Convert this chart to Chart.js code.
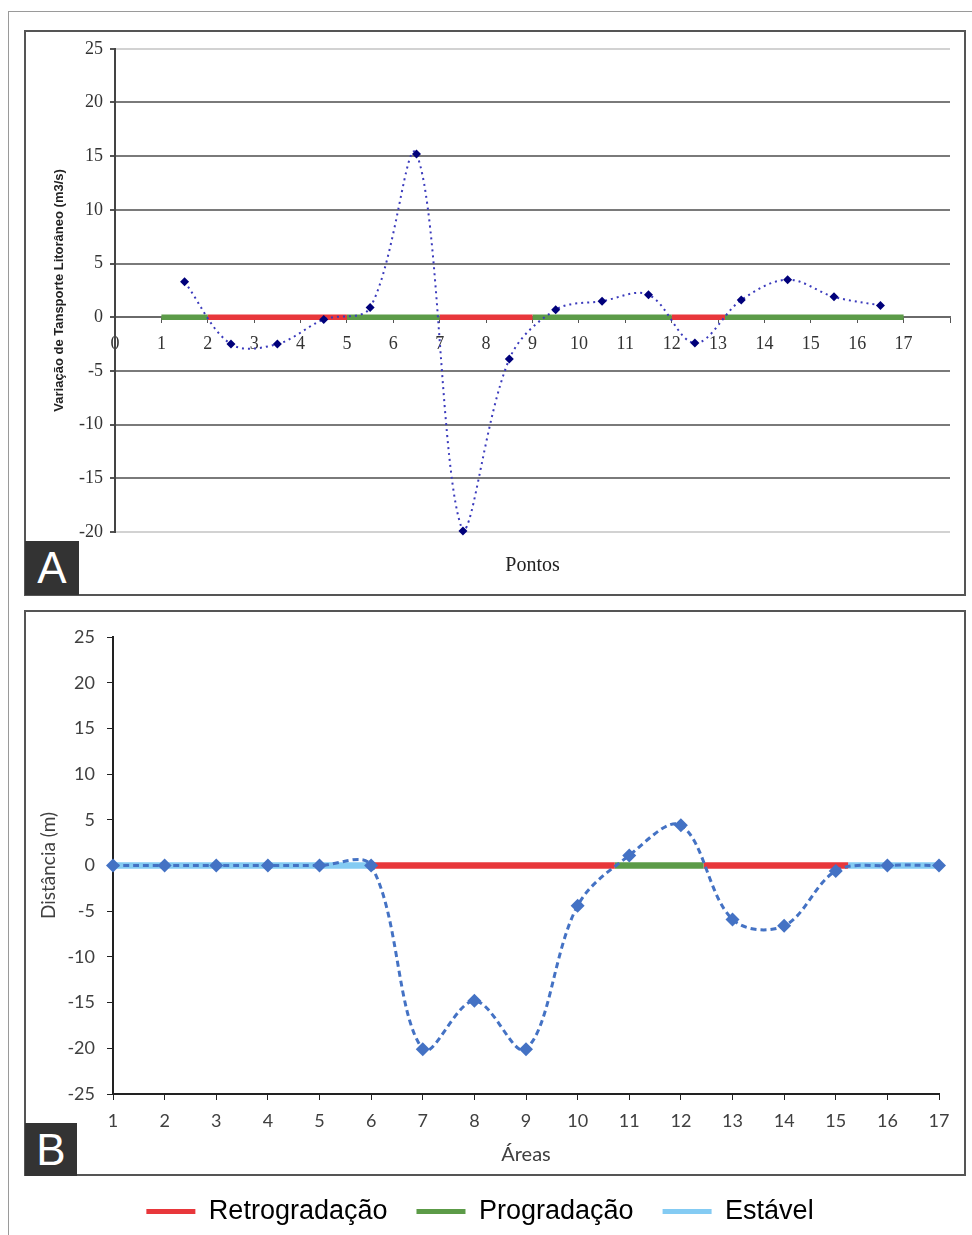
<!DOCTYPE html>
<html>
<head>
<meta charset="utf-8">
<script src="https://cdn.jsdelivr.net/npm/chart.js@4.4.1/dist/chart.umd.min.js"></script>
<style>
  html, body { margin: 0; padding: 0; background: #fff; }
  body { width: 972px; height: 1235px; position: relative; overflow: hidden; }
  .outer { position: absolute; left: 8px; top: 11px; right: -2px; bottom: -2px; border-left: 1px solid #9a9a9a; border-top: 1px solid #9a9a9a; }
  .frame { position: absolute; border: 2px solid #555; box-sizing: border-box; pointer-events: none; }
  .tag { position: absolute; background: #333; color: #fff; font: 44px "Liberation Sans", Arial, sans-serif; display: flex; align-items: center; justify-content: center; }
  canvas { position: absolute; }
</style>
</head>
<body>
<div class="outer"></div>
<canvas id="chartA" width="940" height="564" style="left:25px; top:31px;"></canvas>
<canvas id="chartB" width="960" height="624" style="left:0px; top:611px;"></canvas>
<div class="frame" style="left:24px; top:30px; width:942px; height:566px;"></div>
<div class="frame" style="left:24px; top:610px; width:942px; height:566px;"></div>
<div class="tag" style="left:25px; top:541px; width:54px; height:54px;">A</div>
<div class="tag" style="left:25px; top:1123px; width:52px; height:53px;">B</div>
<script>
// ---- panel A: transporte litorâneo por ponto
const pontosX = [1.5, 2.5, 3.5, 4.5, 5.5, 6.5, 7.5, 8.5, 9.5, 10.5, 11.5, 12.5, 13.5, 14.5, 15.5, 16.5];
const transporte = [3.3, -2.5, -2.5, -0.2, 0.9, 15.2, -19.9, -3.9, 0.7, 1.5, 2.1, -2.4, 1.6, 3.5, 1.9, 1.1];
const segAStart = [1, 2, 5, 7, 9, 12, 13.15];
const segAEnd = [2, 5, 7, 9, 12, 13.15, 17];
const segAClass = ['P', 'R', 'P', 'R', 'P', 'R', 'P'];

// ---- panel B: distância por área
const areas = [1, 2, 3, 4, 5, 6, 7, 8, 9, 10, 11, 12, 13, 14, 15, 16, 17];
const distancia = [0, 0, 0, 0, 0, 0, -20.1, -14.8, -20.1, -4.4, 1.1, 4.4, -5.9, -6.6, -0.6, 0, 0];
const segBStart = [1, 6, 10.72, 12.44, 15.24];
const segBEnd = [6, 10.72, 12.44, 15.24, 17];
const segBClass = ['E', 'R', 'P', 'R', 'E'];

// legenda
const classKeys = ['R', 'P', 'E'];
const classNames = {R: 'Retrogradação', P: 'Progradação', E: 'Estável'};
const classColors = {R: '#e8373b', P: '#5c9b48', E: '#84cbf3'};

const SERIF = '"Liberation Serif", "Times New Roman", serif';
const SANS = '"Liberation Sans", Arial, sans-serif';
const LATO = 'Lato, "Open Sans", sans-serif';

const segDatasets = (starts, ends, classes, width) => starts.map((s, i) => ({
    type: 'line',
    data: [{x: s, y: 0}, {x: ends[i], y: 0}],
    borderColor: classColors[classes[i]],
    borderWidth: width,
    pointRadius: 0,
    tension: 0,
    order: 2,
}));

new Chart(document.getElementById('chartA'), {
    type: 'line',
    data: {
        datasets: [
            {
                data: pontosX.map((x, i) => ({x, y: transporte[i]})),
                borderColor: '#3a3abc',
                borderWidth: 2,
                borderDash: [2, 4],
                tension: 0.35,
                pointStyle: 'rectRot',
                pointRadius: 4.5,
                pointBackgroundColor: '#00007a',
                pointBorderColor: '#00007a',
                pointBorderWidth: 0,
                order: 0,
                clip: false,
            },
            ...segDatasets(segAStart, segAEnd, segAClass, 5.5),
        ]
    },
    options: {
        responsive: false,
        animation: false,
        layout: {padding: {top: 16, right: 15, left: 0, bottom: 63}},
        scales: {
            x: {
                type: 'linear',
                position: {y: 0},
                min: 0,
                max: 18,
                ticks: {
                    stepSize: 1,
                    padding: 11,
                    color: '#333',
                    font: {family: SERIF, size: 18},
                    callback: v => (v > 17 ? '' : v),
                },
                grid: {drawOnChartArea: false, drawTicks: true, tickLength: 5, color: '#555'},
                border: {display: true, color: '#6a6a6a', width: 2},
                title: {
                    display: true,
                    text: 'Pontos',
                    color: '#222',
                    font: {family: SERIF, size: 20},
                    padding: {top: 0, bottom: 0},
                },
                // title sits below the chart, not next to the axis at y = 0
                afterFit: scale => { scale.height = 260.5; },
            },
            y: {
                min: -20,
                max: 25,
                ticks: {stepSize: 5, padding: 7, color: '#333', font: {family: SERIF, size: 18}},
                grid: {
                    color: ctx => (ctx.tick && (ctx.tick.value === 25 || ctx.tick.value === -20)) ? '#d2d2d2' : '#7a7a7a',
                    lineWidth: 2,
                    tickLength: 5,
                    tickColor: '#555',
                },
                border: {display: true, color: '#444', width: 2},
                title: {
                    display: true,
                    text: 'Variação de Tansporte Litorâneo (m3/s)',
                    color: '#222',
                    font: {family: SANS, size: 13, weight: 'bold'},
                    padding: {top: 27, bottom: 0},
                },
                afterFit: scale => { scale.width = 90; },
            },
        },
        plugins: {
            legend: {display: false},
            tooltip: {enabled: false},
        },
    },
});

new Chart(document.getElementById('chartB'), {
    type: 'line',
    data: {
        datasets: [
            {
                data: areas.map((x, i) => ({x, y: distancia[i]})),
                borderColor: '#4472c4',
                borderWidth: 3,
                borderDash: [6, 4],
                tension: 0.35,
                pointStyle: 'rectRot',
                pointRadius: 7,
                pointBackgroundColor: '#4472c4',
                pointBorderColor: '#4472c4',
                pointBorderWidth: 0,
                order: 0,
                clip: false,
            },
            ...segDatasets(segBStart, segBEnd, segBClass, 6.5),
        ]
    },
    options: {
        responsive: false,
        animation: false,
        layout: {padding: {top: 26, right: 0, left: 0, bottom: 0}},
        scales: {
            x: {
                type: 'linear',
                min: 1,
                max: 17,
                ticks: {stepSize: 1, padding: 10, color: '#404040', font: {family: LATO, size: 18}},
                grid: {drawOnChartArea: false, drawTicks: true, tickLength: 6, color: '#222'},
                border: {display: true, color: '#222', width: 2},
                title: {
                    display: true,
                    text: 'Áreas',
                    color: '#404040',
                    font: {family: LATO, size: 20},
                    padding: {top: 4, bottom: 2},
                },
                afterFit: scale => {
                    scale.height = 75;
                    scale.paddingRight = 21;
                },
            },
            y: {
                min: -25,
                max: 25,
                ticks: {stepSize: 5, padding: 12, color: '#404040', font: {family: LATO, size: 18}},
                grid: {drawOnChartArea: false, drawTicks: true, tickLength: 6, color: '#222'},
                border: {display: true, color: '#222', width: 2},
                title: {
                    display: true,
                    text: 'Distância (m)',
                    color: '#404040',
                    font: {family: LATO, size: 19},
                    padding: {top: 37, bottom: 0},
                },
                afterFit: scale => { scale.width = 113; },
            },
        },
        plugins: {
            tooltip: {enabled: false},
            legend: {
                display: true,
                position: 'bottom',
                labels: {
                    usePointStyle: true,
                    pointStyleWidth: 49,
                    padding: 29,
                    color: '#333',
                    font: {family: SANS, size: 27},
                    generateLabels: () => classKeys.map(k => ({
                        text: classNames[k],
                        strokeStyle: classColors[k],
                        fillStyle: classColors[k],
                        lineWidth: 5,
                        pointStyle: 'line',
                        hidden: false,
                    })),
                },
            },
        },
    },
});
</script>
</body>
</html>
